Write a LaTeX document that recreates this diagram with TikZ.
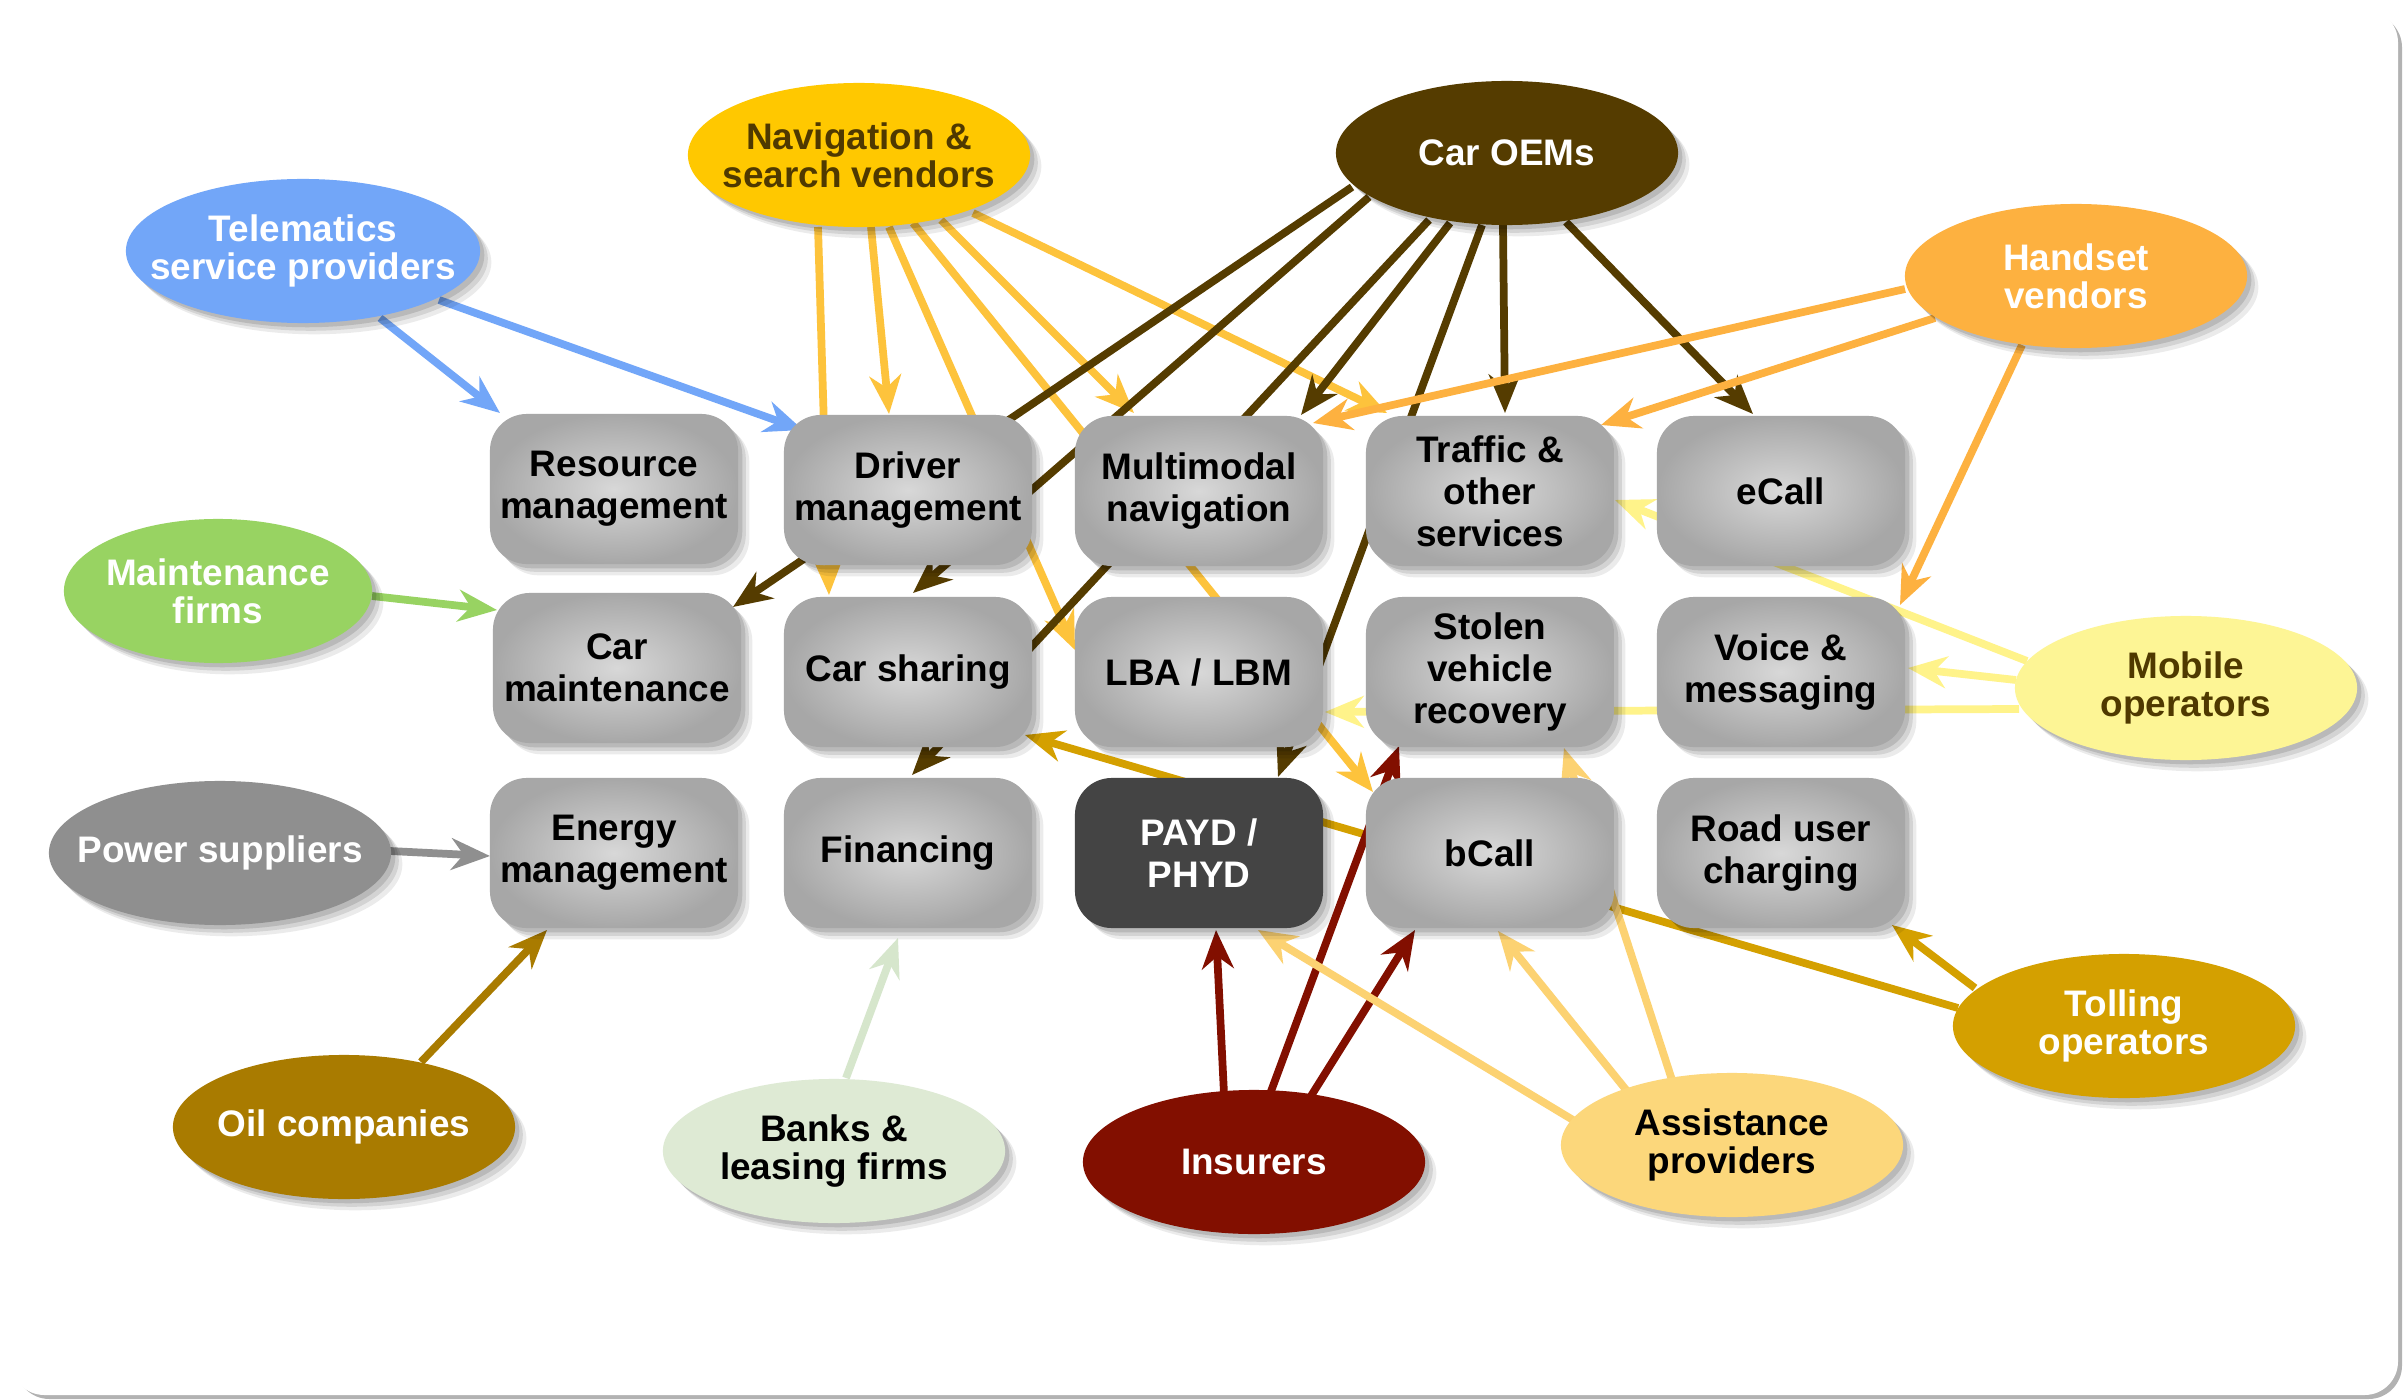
\documentclass[tikz,border=0pt]{standalone}
\usepackage{fontspec}
\setmainfont{Liberation Sans}
\usetikzlibrary{shapes.geometric,arrows.meta,calc,shadows}
\pgfdeclarelayer{framelayer}
\pgfdeclarelayer{edgelayer}
\pgfsetlayers{framelayer,edgelayer,main}
\definecolor{cBlue}{HTML}{72A6F8}
\definecolor{cNav}{HTML}{FFC800}
\definecolor{cNavL}{HTML}{FDC33C}
\definecolor{cOEM}{HTML}{553C00}
\definecolor{cHV}{HTML}{FDB140}
\definecolor{cMF}{HTML}{98D362}
\definecolor{cPS}{HTML}{8F8F8F}
\definecolor{cOil}{HTML}{A97B00}
\definecolor{cBank}{HTML}{DEEAD4}
\definecolor{cBankL}{HTML}{D6E6CC}
\definecolor{cIns}{HTML}{820F00}
\definecolor{cAP}{HTML}{FCD77B}
\definecolor{cAPL}{HTML}{FCD272}
\definecolor{cTO}{HTML}{D4A000}
\definecolor{cMO}{HTML}{FDF595}
\definecolor{cMOL}{HTML}{FFF38A}
\definecolor{cBrownTxt}{HTML}{4F3900}
\definecolor{bxin}{HTML}{D8D8D8}
\definecolor{bxout}{HTML}{A7A7A7}
\definecolor{paydc}{HTML}{444444}
\newcommand\boxfont{\fontsize{10.5}{12}\selectfont\bfseries}
\newcommand\ellfont{\fontsize{10.5}{10.8}\selectfont\bfseries}
\tikzset{
  myshadow/.style={
    drop shadow={shadow xshift=1.2pt, shadow yshift=-1.2pt, opacity=0.12, fill=black},
    drop shadow={shadow xshift=2.2pt, shadow yshift=-2.2pt, opacity=0.10, fill=black},
    drop shadow={shadow xshift=3.2pt, shadow yshift=-3.2pt, opacity=0.08, fill=black}},
  boxbase/.style={rectangle, rounded corners=10.5pt, minimum width=2.48cm, minimum height=1.5cm,
    inner sep=0pt, align=center, font=\boxfont, myshadow},
  box/.style={boxbase, inner color=bxin, outer color=bxout},
  dbox/.style={boxbase, fill=paydc, text=white},
  ell/.style={ellipse, minimum width=3.42cm, minimum height=1.44cm, inner sep=0pt, myshadow},
  et/.style={align=center, font=\ellfont, inner sep=0pt},
  conn/.style={line width=2.2pt, -{Stealth[length=11pt,width=9pt,inset=3.5pt]}}
}
\begin{document}
\begin{tikzpicture}[x=0.01cm,y=-0.01cm]
\useasboundingbox (0,0) rectangle (2405,1400);
\begin{pgfonlayer}{framelayer}
\fill[white] (0,0) rectangle (2405,1400);
\fill[black!10, rounded corners=9.5pt] (13,11) rectangle (2396,1393);
\fill[black!30, rounded corners=9.5pt] (16,14) rectangle (2402,1399);
\fill[white, rounded corners=9.5pt] (11,9) rectangle (2398,1395);
\end{pgfonlayer}

% boxes
\node[box] (res) at (614,489) {Resource\\management};
\node[box] (drv) at (908,490) {Driver\\management};
\node[box] (mm) at (1199,491) {Multimodal\\navigation};
\node[box] (trf) at (1490,491) {Traffic \&\\other\\services};
\node[box] (ecall) at (1781,491) {eCall};
\node[box] (cm) at (617,668) {Car\\maintenance};
\node[box] (cs) at (908,672) {Car sharing};
\node[box] (lba) at (1199,672) {LBA / LBM};
\node[box] (svr) at (1490,672) {Stolen\\vehicle\\recovery};
\node[box] (vm) at (1781,672) {Voice \&\\messaging};
\node[box] (em) at (614,853) {Energy\\management};
\node[box] (fin) at (908,853) {Financing};
\node[dbox] (payd) at (1199,853) {PAYD /\\PHYD};
\node[box] (bcall) at (1490,853) {bCall};
\node[box] (ruc) at (1781,853) {Road user\\charging};

% ellipses
\node[ell, fill=cBlue, minimum width=3.54cm, label={[et,text=white]center:{Telematics\\service providers}}] (tsp) at (303,251) {};
\node[ell, fill=cNav, label={[et,text=cBrownTxt]center:{Navigation \&\\search vendors}}] (nav) at (859,155) {};
\node[ell, fill=cOEM, label={[et,text=white]center:{Car OEMs}}] (oem) at (1507,153) {};
\node[ell, fill=cHV, label={[et,text=white]center:{Handset\\vendors}}] (hv) at (2076,276) {};
\node[ell, fill=cMF, minimum width=3.08cm, label={[et,text=white]center:{Maintenance\\firms}}] (mf) at (218,591) {};
\node[ell, fill=cPS, label={[et,text=white]center:{Power suppliers}}] (ps) at (220,853) {};
\node[ell, fill=cOil, label={[et,text=white]center:{Oil companies}}] (oil) at (344,1127) {};
\node[ell, fill=cBank, label={[et,text=black]center:{Banks \&\\leasing firms}}] (bank) at (834,1151) {};
\node[ell, fill=cIns, label={[et,text=white]center:{Insurers}}] (ins) at (1254,1162) {};
\node[ell, fill=cAP, label={[et,text=black]center:{Assistance\\providers}}] (ap) at (1732,1145) {};
\node[ell, fill=cTO, label={[et,text=white]center:{Tolling\\operators}}] (to) at (2124,1026) {};
\node[ell, fill=cMO, label={[et,text=cBrownTxt]center:{Mobile\\operators}}] (mo) at (2186,688) {};

\begin{pgfonlayer}{edgelayer}
% telematics
\draw[conn, cBlue] ($(tsp)+(77,67)$) -- ($(res)+(-114,-76)$);
\draw[conn, cBlue] ($(tsp)+(136,49)$) -- ($(drv)+(-105,-60)$);
% navigation
\draw[conn, cNavL] ($(nav)+(-41,72)$) -- ($(cs)+(-79,-77)$);
\draw[conn, cNavL] ($(nav)+(12,72)$) -- ($(drv)+(-19,-76)$);
\draw[conn, cNavL] ($(nav)+(30,72)$) -- ($(lba)+(-124,-22)$);
\draw[conn, cNavL] ($(nav)+(54,68)$) -- ($(bcall)+(-117,-61)$);
\draw[conn, cNavL] ($(nav)+(82,65)$) -- ($(mm)+(-65,-78)$);
\draw[conn, cNavL] ($(nav)+(114,58)$) -- ($(trf)+(-103,-78)$);
% car OEMs
\draw[conn, cOEM] ($(oem)+(-155,34)$) -- ($(cm)+(116,-61)$);
\draw[conn, cOEM] ($(oem)+(-138,44)$) -- ($(cs)+(5,-79)$);
\draw[conn, cOEM] ($(oem)+(-78,67)$) -- ($(fin)+(4,-78)$);
\draw[conn, cOEM] ($(oem)+(-57,70)$) -- ($(mm)+(102,-76)$);
\draw[conn, cOEM] ($(oem)+(-25,72)$) -- ($(payd)+(79,-76)$);
\draw[conn, cOEM] ($(oem)+(-4,72)$) -- ($(trf)+(15,-78)$);
\draw[conn, cOEM] ($(oem)+(59,69)$) -- ($(ecall)+(-28,-77)$);
% handset vendors
\draw[conn, cHV] ($(hv)+(-171,13)$) -- ($(mm)+(114,-68)$);
\draw[conn, cHV] ($(hv)+(-141,42)$) -- ($(trf)+(111,-66)$);
\draw[conn, cHV] ($(hv)+(-54,69)$) -- ($(vm)+(119,-67)$);
% mobile operators
\draw[conn, cMOL] ($(mo)+(-159,-27)$) -- ($(trf)+(125,9)$);
\draw[conn, cMOL] ($(mo)+(-170,-8)$) -- ($(vm)+(127,-4)$);
\draw[conn, cMOL] ($(mo)+(-167,21)$) -- ($(lba)+(126,40)$);
% tolling operators
\draw[conn, cTO] ($(to)+(-149,-38)$) -- ($(ruc)+(111,72)$);
\draw[conn, cTO] ($(to)+(-166,-18)$) -- ($(cs)+(117,63)$);
% insurers
\draw[conn, cIns] ($(ins)+(-30,-68)$) -- ($(payd)+(17,77)$);
\draw[conn, cIns] ($(ins)+(16,-68)$) -- ($(svr)+(-91,74)$);
\draw[conn, cIns] ($(ins)+(57,-66)$) -- ($(bcall)+(-75,77)$);
% assistance providers
\draw[conn, cAPL] ($(ap)+(-159,-25)$) -- ($(payd)+(59,77)$);
\draw[conn, cAPL] ($(ap)+(-105,-54)$) -- ($(bcall)+(8,78)$);
\draw[conn, cAPL] ($(ap)+(-60,-65)$) -- ($(svr)+(74,76)$);
% left side
\draw[conn, cMF] ($(mf)+(154,5)$) -- ($(cm)+(-120,-58)$);
\draw[conn, cPS] ($(ps)+(170,-2)$) -- ($(em)+(-124,3)$);
\draw[conn, cOil] ($(oil)+(77,-65)$) -- ($(em)+(-67,77)$);
\draw[conn, cBankL] ($(bank)+(12,-73)$) -- ($(fin)+(-10,85)$);
\end{pgfonlayer}
\end{tikzpicture}
\end{document}
